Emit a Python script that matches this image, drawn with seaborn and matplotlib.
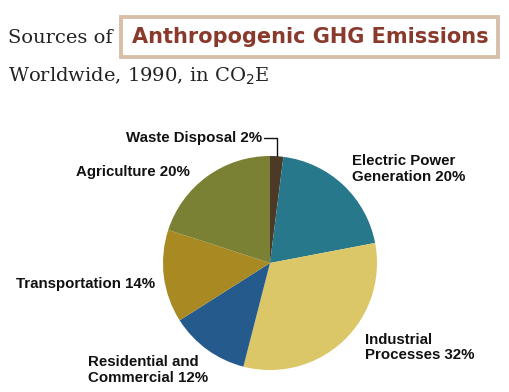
import numpy as np
import matplotlib
matplotlib.use("Agg")
import matplotlib.pyplot as plt
import seaborn as sns
from matplotlib.patches import FancyBboxPatch

sources = ["Waste Disposal", "Electric Power\nGeneration", "Industrial\nProcesses",
           "Residential and\nCommercial", "Transportation", "Agriculture"]
shares = [2, 20, 32, 12, 14, 20]
colors = ["#4c3a26", "#27788a", "#dcc768", "#255b8c", "#a98a22", "#7a8134"]

sns.set_theme(style="white")
plt.rcParams["font.family"] = ["Liberation Sans", "DejaVu Sans"]

fig = plt.figure(figsize=(5.1, 3.92), dpi=100)
ax = fig.add_axes([163 / 510, 22 / 392, 214 / 510, 214 / 392])
wedges, _ = ax.pie(shares, colors=colors, startangle=90, counterclock=False,
                   wedgeprops=dict(linewidth=0))
ax.set_xlim(-1, 1)
ax.set_ylim(-1, 1)
ax.axis("off")

# label placement relative to pie (radius 1)
label_pos = [(-0.07, 1.17, "right"), (0.77, 0.88, "left"), (0.89, -0.79, "left"),
             (-1.70, -1.0, "left"), (-1.07, -0.20, "right"), (-0.75, 0.85, "right")]
for name, val, (x, y, ha) in zip(sources, shares, label_pos):
    ax.text(x, y, f"{name} {val}%", ha=ha, va="center", fontsize=10.8,
            fontweight="bold", color="#111111", linespacing=1.15, clip_on=False)

# leader line for the thin waste slice
w = wedges[0]
mid = np.deg2rad((w.theta1 + w.theta2) / 2)
mx = np.cos(mid)
ax.plot([-0.06, mx, mx], [1.17, 1.17, np.sin(mid)], color="#111111", lw=1,
        clip_on=False)

fig.text(8 / 510, 1 - 38 / 392, "Sources of", fontsize=14, family="DejaVu Serif",
         va="center", ha="left", color="#222222")
box = FancyBboxPatch((121 / 510, 1 - 57 / 392), 377 / 510, 40 / 392,
                     boxstyle="square,pad=0", transform=fig.transFigure,
                     facecolor="white", edgecolor="#d8c0a8", linewidth=2.8)
fig.patches.append(box)
fig.text(310 / 510, 1 - 37 / 392, "Anthropogenic GHG Emissions", fontsize=15,
         fontweight="bold", family="DejaVu Sans",
         va="center", ha="center", color="#8a3a2c")
fig.text(8 / 510, 1 - 76 / 392, "Worldwide, 1990, in CO$_2$E", fontsize=14,
         family="DejaVu Serif", va="center", ha="left", color="#222222")

fig.savefig("out.png", dpi=100)
